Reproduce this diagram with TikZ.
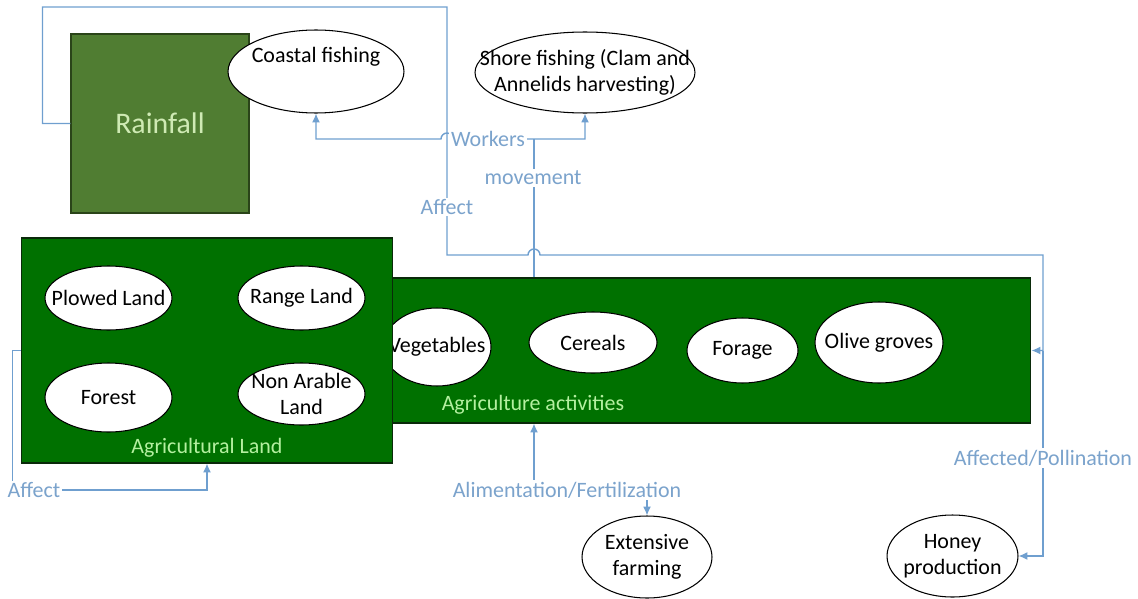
\documentclass[tikz,border=0pt]{standalone}
\usepackage{fontspec}
\setmainfont{Carlito}
\usetikzlibrary{shapes.geometric,arrows.meta}

\definecolor{rainc}{HTML}{507D32}
\definecolor{rainb}{HTML}{2A4419}
\definecolor{raintxt}{HTML}{CFEAB4}
\definecolor{landc}{HTML}{007100}
\definecolor{landb}{HTML}{0A2A0A}
\definecolor{landtxt}{HTML}{B4F0A0}
\definecolor{flowc}{HTML}{6F9FCF}
\definecolor{lblc}{HTML}{7BA3CC}

\begin{document}
\begin{tikzpicture}[x=0.02cm, y=-0.02cm,
    oval/.style={ellipse, draw=black, line width=0.6pt, fill=white, inner xsep=-1cm, inner ysep=-0.6cm, align=center, font=\fontsize{12.5}{14.5}\selectfont},
    flow/.style={draw=flowc, line width=0.8pt},
    arr/.style={-{Latex[length=5pt,width=4.5pt]}},
    lbl/.style={text=lblc, fill=white, inner sep=1pt, font=\fontsize{12.5}{14.5}\selectfont}]

    \useasboundingbox (0,0) rectangle (1138,598);

    % 雨
    \node[draw=rainb, fill=rainc, line width=0.6pt, minimum width=3.56cm, minimum height=3.58cm, text=raintxt, font=\fontsize{17}{20}\selectfont] (rain) at (160,123.5) {Rainfall};
    \node[oval, minimum width=3.52cm, minimum height=1.66cm] (coast) at (316,71.5) {Coastal fishing\\ \strut};
    \node[oval, minimum width=4.4cm, minimum height=1.62cm] (shore) at (585,72.5) {Shore fishing (Clam and\\Annelids harvesting)};

    % 農業活動
    \node[draw=landb, fill=landc, line width=0.6pt, minimum width=12.92cm, minimum height=2.9cm] (agact) at (708,350.5) {};
    \node[oval, minimum width=2.16cm, minimum height=1.56cm] (veg) at (437,347) {Vegetables};
    \node[oval, minimum width=2.56cm, minimum height=1.22cm] (cereals) at (593,342.5) {Cereals};
    \node[oval, minimum width=2.22cm, minimum height=1.3cm] (forage) at (742.5,350.5) {Forage};
    \node[oval, minimum width=2.56cm, minimum height=1.62cm] (olive) at (879,342.5) {Olive groves};
    \node[text=landtxt, font=\fontsize{12.5}{14.5}\selectfont] (agactlbl) at (533,405) {Agriculture activities};

    % 農地
    \node[draw=landb, fill=landc, line width=0.6pt, minimum width=7.44cm, minimum height=4.5cm] (agland) at (207,350.5) {};
    \node[oval, minimum width=2.54cm, minimum height=1.28cm] (plowed) at (108.5,298) {Plowed Land};
    \node[oval, minimum width=2.54cm, minimum height=1.28cm] (range) at (301.5,298) {Range Land};
    \node[oval, minimum width=2.54cm, minimum height=1.38cm] (forest) at (108.5,397.5) {Forest};
    \node[oval, minimum width=2.54cm, minimum height=1.24cm] (nonarable) at (301.5,394) {Non Arable\\Land};
    \node[text=landtxt, font=\fontsize{12.5}{14.5}\selectfont] (aglandlbl) at (207,448) {Agricultural Land};

    % 下の楕円
    \node[oval, minimum width=2.6cm, minimum height=1.64cm] (extensive) at (647,557) {Extensive\\farming};
    \node[oval, minimum width=2.62cm, minimum height=1.64cm] (honey) at (952.5,556) {Honey\\production};

    % 線を引く
    \coordinate (mv) at (534,139);
    \coordinate (loopR) at (1043,255);
    \draw[flow, arr] (rain.west) -- ++(-28,0) |- (447,7) -- (447,255) -- (528,255) arc[start angle=180, end angle=0, radius=1.2mm] -- (loopR) |- (agact.east);
    \draw[flow, arr] (agact.east -| loopR) |- (honey.east);
    \draw[flow, {Latex[length=5pt,width=4.5pt]}-{Latex[length=5pt,width=4.5pt]}] (coast.south) -- (coast.south |- mv) -- (441,139) arc[start angle=180, end angle=0, radius=1.2mm] -- (shore.south |- mv) -- (shore.south);
    \draw[flow] (agact.north -| mv) -- (mv);
    \draw[flow, arr] (agland.west) -- ++(-8,0) |- (agland.south |- 0,490) -- (agland.south);
    \draw[flow, {Latex[length=5pt,width=4.5pt]}-{Latex[length=5pt,width=4.5pt]}] (agact.south -| mv) -- (534,490) -- (extensive.north |- 0,490) -- (extensive.north);

    % ラベル
    \node[lbl] (workers) at (488,139) {Workers};
    \node[lbl] (movement) at (533,178) {movement};
    \node[lbl] (affA) at (447,207) {Affect};
    \node[lbl] (affB) at (34,490) {Affect};
    \node[lbl] (alim) at (567,490) {Alimentation/Fertilization};
    \node[lbl] (pollin) at (1043,458) {Affected/Pollination};

\end{tikzpicture}
\end{document}
